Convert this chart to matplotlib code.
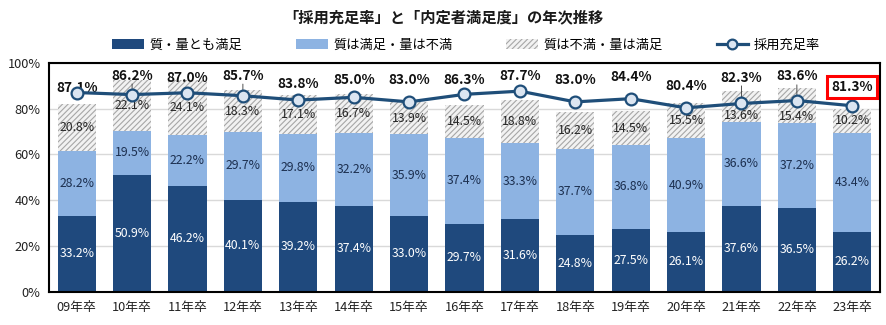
import matplotlib
matplotlib.use('Agg')
import matplotlib.pyplot as plt
import numpy as np
from matplotlib.patches import Patch
from matplotlib.lines import Line2D
from matplotlib.ticker import PercentFormatter

plt.rcParams['font.family'] = ['Noto Sans CJK JP', 'DejaVu Sans']
plt.rcParams['hatch.linewidth'] = 0.8

# Data
years = ['09年卒', '10年卒', '11年卒', '12年卒', '13年卒', '14年卒', '15年卒', '16年卒',
         '17年卒', '18年卒', '19年卒', '20年卒', '21年卒', '22年卒', '23年卒']
both_ok = [33.2, 50.9, 46.2, 40.1, 39.2, 37.4, 33.0, 29.7, 31.6, 24.8, 27.5, 26.1, 37.6, 36.5, 26.2]
quality_only = [28.2, 19.5, 22.2, 29.7, 29.8, 32.2, 35.9, 37.4, 33.3, 37.7, 36.8, 40.9, 36.6, 37.2, 43.4]
quantity_only = [20.8, 22.1, 24.1, 18.3, 17.1, 16.7, 13.9, 14.5, 18.8, 16.2, 14.5, 15.5, 13.6, 15.4, 10.2]
fill_rate = [87.1, 86.2, 87.0, 85.7, 83.8, 85.0, 83.0, 86.3, 87.7, 83.0, 84.4, 80.4, 82.3, 83.6, 81.3]

# label offsets (points) for the fill-rate values, and which ones get a leader line
label_dy = [3.6, 13.7, 10.8, 14.4, 11.5, 12.2, 15.8, 10.0, 10.8, 15.8, 15.8, 15.8, 18.7, 17.3, 13.7]
leaders = [1, 3, 12, 13]
# hatched-segment labels pushed down where the line marker sits on them
hatch_dy = {12: -6.5, 13: -8.0}

dark = '#1f497d'
light = '#8db3e2'
line_c = '#1f4e79'

fig = plt.figure(figsize=(8.86, 3.25), dpi=100)
ax = fig.add_axes([0.0553, 0.103, 0.9379, 0.703])

x = np.arange(len(years))
w = 0.69
b1 = np.array(both_ok)
b2 = b1 + np.array(quality_only)

ax.bar(x, both_ok, w, color=dark, zorder=2)
ax.bar(x, quality_only, w, bottom=b1, color=light, zorder=2)
ax.bar(x, quantity_only, w, bottom=b2, color='#f2f2f2', edgecolor='#a6a6a6',
       hatch='//////', linewidth=0, zorder=2)

for i in range(len(years)):
    ax.text(x[i], both_ok[i] / 2, f'{both_ok[i]:.1f}%', ha='center', va='center',
            color='white', fontsize=8.8, zorder=4)
    ax.text(x[i], b1[i] + quality_only[i] / 2, f'{quality_only[i]:.1f}%', ha='center',
            va='center', color='#1c2f4f', fontsize=8.8, zorder=4)
    ax.annotate(f'{quantity_only[i]:.1f}%', (x[i], b2[i] + quantity_only[i] / 2),
                xytext=(0, hatch_dy.get(i, 0)), textcoords='offset points',
                ha='center', va='center', color='#262626', fontsize=8.8, zorder=4)

ax.plot(x, fill_rate, color=line_c, lw=2.3, marker='o', ms=8.5,
        mfc='#dbe5f1', mec=line_c, mew=1.6, zorder=5)

for i, v in enumerate(fill_rate):
    kw = {}
    if i == len(fill_rate) - 1:
        kw['bbox'] = dict(boxstyle='square,pad=0.3', fc='white', ec='#ff0000', lw=2.2)
    ax.annotate(f'{v:.1f}%', (x[i], v), xytext=(0, label_dy[i]), textcoords='offset points',
                ha='center', va='center', fontsize=9.8, fontweight='bold', color='#111111',
                zorder=4 if i == 0 else 6, **kw)
    if i in leaders:
        ax.annotate('', (x[i], v), xytext=(0, label_dy[i] - 6), textcoords='offset points',
                    arrowprops=dict(arrowstyle='-', color='#333333', lw=0.6,
                                    shrinkA=0, shrinkB=2), zorder=4)

ax.set_xlim(-0.5, len(years) - 0.5)
ax.set_ylim(0, 100)
ax.set_yticks(range(0, 101, 20))
ax.yaxis.set_major_formatter(PercentFormatter(decimals=0))
ax.set_xticks(x)
ax.set_xticklabels(years)
ax.tick_params(axis='both', length=0, labelsize=9.2, colors='#222222')
ax.tick_params(axis='x', pad=7)
ax.tick_params(axis='y', pad=6)
ax.grid(axis='y', color='#d9d9d9', lw=1, zorder=0)
for s in ax.spines.values():
    s.set_color('black')
    s.set_linewidth(1.5)

fig.text(0.5, 0.948, '「採用充足率」と「内定者満足度」の年次推移', ha='center', va='center',
         fontsize=11, fontweight='bold', color='#1a1a1a')

handles = [
    Patch(facecolor=dark, label='質・量とも満足'),
    Patch(facecolor=light, label='質は満足・量は不満'),
    Patch(facecolor='#f2f2f2', edgecolor='#a6a6a6', hatch='//////', lw=0, label='質は不満・量は満足'),
    Line2D([], [], color=line_c, lw=2.3, marker='o', ms=7, mfc='#dbe5f1', mec=line_c,
           mew=1.6, label='採用充足率'),
]
fig.legend(handles=handles, loc='center', bbox_to_anchor=(0.526, 0.862), ncol=4,
           frameon=False, fontsize=9.5, handlelength=2.4, handleheight=0.8,
           columnspacing=4.1, handletextpad=0.4)

fig.savefig('out.png', dpi=100)
